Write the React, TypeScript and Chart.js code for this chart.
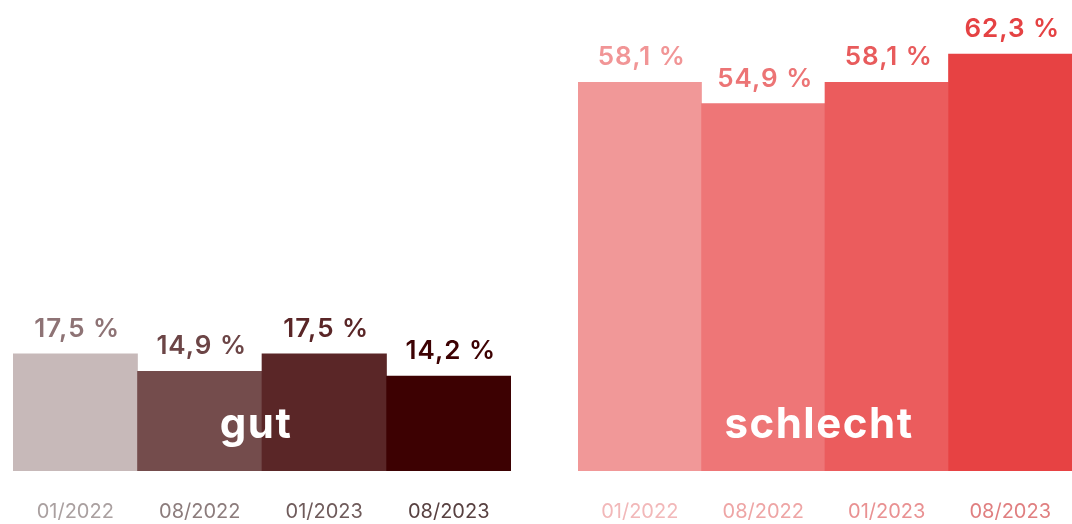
import React, { useEffect, useRef } from "react";
import { Chart, registerables } from "chart.js";

Chart.register(...registerables);

const categories = ["01/2022", "08/2022", "01/2023", "08/2023"];
const gutValues = [17.5, 14.9, 17.5, 14.2];
const schlechtValues = [58.1, 54.9, 58.1, 62.3];

const gutBarColors = ["#c7b9b9", "#744c4c", "#5a2627", "#3d0102"];
const gutLabelColors = ["#8e7375", "#6c4546", "#5a2627", "#3d0102"];
const gutTickColors = ["#aaa0a0", "#8c7c7c", "#6f5b5b", "#584141"];

const schlechtBarColors = ["#f19898", "#ee7677", "#eb5c5d", "#e74243"];
const schlechtLabelColors = ["#f19596", "#ec7475", "#e85b5c", "#e54243"];
const schlechtTickColors = ["#f2b8b9", "#eea5a5", "#e99192", "#e07f80"];

const Y_MAX = 70.4;
const FONT = "Inter, 'Noto Sans', sans-serif";

function fmt(v: number) {
  return v.toFixed(1).replace(".", ",") + " %";
}

function makeChart(
  canvas: HTMLCanvasElement,
  values: number[],
  barColors: string[],
  labelColors: string[],
  tickColors: string[],
  groupLabel: string
) {
  const labelPlugin = {
    id: "labels" + groupLabel,
    afterDatasetsDraw(chart: any) {
      const ctx = chart.ctx as CanvasRenderingContext2D;
      const meta = chart.getDatasetMeta(0);
      ctx.save();
      ctx.textAlign = "center";
      ctx.textBaseline = "alphabetic";
      ctx.font = `600 26px ${FONT}`;
      (ctx as any).letterSpacing = "1px";
      meta.data.forEach((bar: any, i: number) => {
        ctx.fillStyle = labelColors[i];
        ctx.fillText(fmt(values[i]), bar.x + 2, bar.y - 17);
      });
      const area = chart.chartArea;
      ctx.font = `700 42px ${FONT}`;
      (ctx as any).letterSpacing = "1.5px";
      ctx.fillStyle = "#ffffff";
      ctx.fillText(groupLabel, (area.left + area.right) / 2 - 6, 438);
      ctx.restore();
    },
  };

  return new Chart(canvas, {
    type: "bar",
    data: {
      labels: categories,
      datasets: [
        {
          data: values,
          backgroundColor: barColors,
          borderWidth: 0,
          barPercentage: 1,
          categoryPercentage: 1,
        },
      ],
    },
    options: {
      responsive: false,
      animation: false,
      layout: { padding: 0 },
      plugins: {
        legend: { display: false },
        tooltip: { enabled: false },
      },
      scales: {
        x: {
          grid: { display: false },
          border: { display: false },
          ticks: {
            padding: 21,
            autoSkip: false,
            maxRotation: 0,
            color: tickColors,
            font: { family: FONT, size: 20, weight: "400" },
          },
          afterFit(scale: any) {
            scale.height = 53;
            scale.paddingLeft = 0;
            scale.paddingRight = 0;
          },
        },
        y: {
          display: false,
          min: 0,
          max: Y_MAX,
        },
      },
    },
    plugins: [labelPlugin],
  } as any);
}

export default function App() {
  const leftRef = useRef<HTMLCanvasElement>(null);
  const rightRef = useRef<HTMLCanvasElement>(null);

  useEffect(() => {
    const c1 = makeChart(
      leftRef.current!,
      gutValues,
      gutBarColors,
      gutLabelColors,
      gutTickColors,
      "gut"
    );
    const c2 = makeChart(
      rightRef.current!,
      schlechtValues,
      schlechtBarColors,
      schlechtLabelColors,
      schlechtTickColors,
      "schlecht"
    );
    return () => {
      c1.destroy();
      c2.destroy();
    };
  }, []);

  return (
    <div
      style={{
        position: "fixed",
        left: 0,
        top: 0,
        width: 1072,
        height: 524,
        background: "#ffffff",
        overflow: "hidden",
      }}
    >
      <canvas
        ref={leftRef}
        width={498}
        height={524}
        style={{ position: "absolute", left: 13, top: 0, display: "block" }}
      />
      <canvas
        ref={rightRef}
        width={494}
        height={524}
        style={{ position: "absolute", left: 578, top: 0, display: "block" }}
      />
    </div>
  );
}
